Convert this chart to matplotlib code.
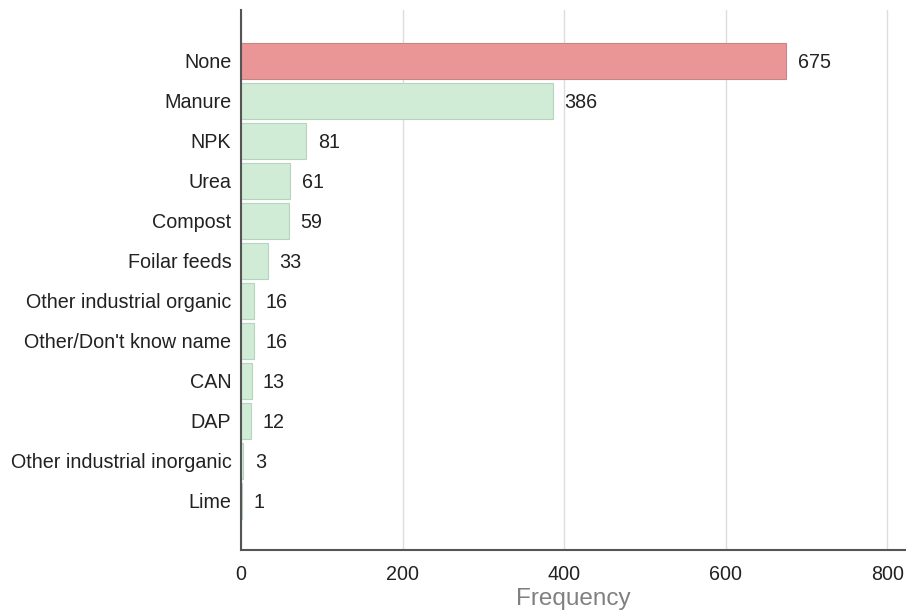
import matplotlib
matplotlib.use("Agg")
import matplotlib.pyplot as plt

categories = ["None", "Manure", "NPK", "Urea", "Compost", "Foilar feeds",
              "Other industrial organic", "Other/Don't know name", "CAN", "DAP",
              "Other industrial inorganic", "Lime"]
values = [675, 386, 81, 61, 59, 33, 16, 16, 13, 12, 3, 1]
xticks = [0, 200, 400, 600, 800]

plt.rcParams['font.family'] = ['Liberation Sans', 'DejaVu Sans']

fig = plt.figure(figsize=(9.06, 6.12), dpi=100)
ax = fig.add_axes([241/906, 62/612, 664/906, 540/612])

n = len(categories)
ypos = list(range(n))
colors = ["#EA9696"] + ["#D0ECD6"] * (n - 1)
edges = ["#C98585"] + ["#B5D6BD"] * (n - 1)
ax.barh(ypos, values, height=0.92, color=colors, edgecolor=edges, linewidth=0.8, zorder=2)

for y, v in zip(ypos, values):
    ax.text(v + 14, y + 0.03, str(v), va='center', ha='left', fontsize=14.2, color='#222222')

ax.set_yticks(ypos)
ax.set_yticklabels(categories, fontsize=14.2, color='#222222')
ax.set_ylim(n - 1 + 1.225, -1.275)
ax.set_xlim(0, 822)
ax.set_xticks(xticks)
ax.set_xticklabels([str(t) for t in xticks], fontsize=14.2, color='#222222')
ax.tick_params(axis='y', length=0, pad=7)
ax.tick_params(axis='x', length=0, pad=11)
ax.set_xlabel("Frequency", fontsize=17.5, color='#808080', labelpad=3)

ax.grid(axis='x', color='#DDDDDD', linewidth=1, zorder=0)
ax.set_axisbelow(True)
for s in ['top', 'right']:
    ax.spines[s].set_visible(False)
for s in ['left', 'bottom']:
    ax.spines[s].set_color('#555555')
    ax.spines[s].set_linewidth(1.5)

fig.savefig("out.png", dpi=100)
